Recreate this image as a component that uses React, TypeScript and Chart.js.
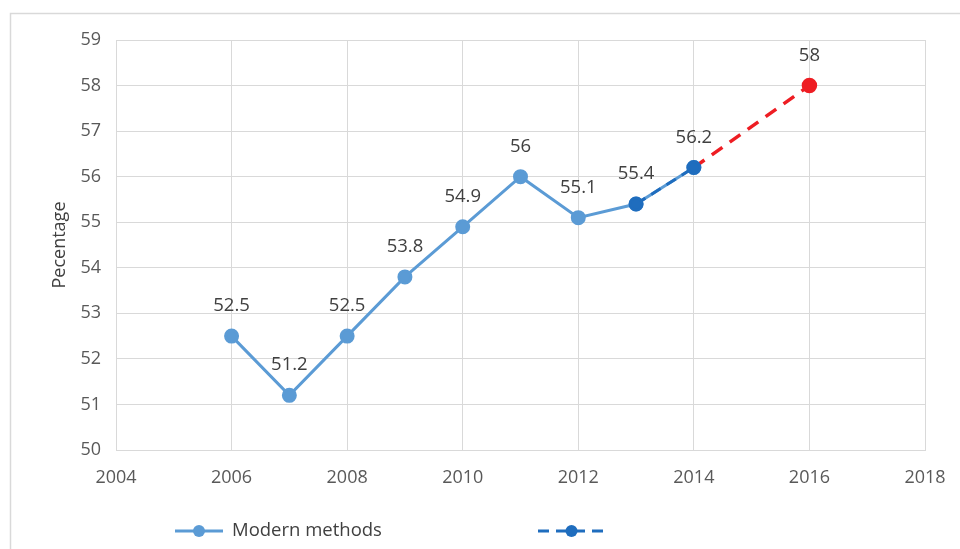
import React, { useEffect, useRef } from "react";
import { Chart, registerables } from "chart.js";
Chart.register(...registerables);

const years = [2006, 2007, 2008, 2009, 2010, 2011, 2012, 2013, 2014];
const modernMethods = [52.5, 51.2, 52.5, 53.8, 54.9, 56, 55.1, 55.4, 56.2];
const recentYears = [2013, 2014];
const recentValues = [55.4, 56.2];
const targetYears = [2014, 2016];
const targetValues = [56.2, 58];
const seriesNames = ["Modern methods", "", "Target"];
const xMin = 2004, xMax = 2018, xStep = 2;
const yMin = 50, yMax = 59, yStep = 1;
const yTitle = "Pecentage";

const FONT = '"Open Sans", "Noto Sans", sans-serif';
const LIGHT = "#5B9BD5";
const DARK = "#1F6DBE";
const RED = "#EE1D23";
const GRID = "#D9D9D9";
const TEXT = "#404040";

const toPts = (xs: number[], ys: number[]) => xs.map((x, i) => ({ x, y: ys[i] }));

const bgPlugin = {
  id: "bgBorder",
  beforeDraw(chart: any) {
    const { ctx } = chart;
    ctx.save();
    ctx.fillStyle = "#fff";
    ctx.fillRect(0, 0, chart.width, chart.height);
    ctx.strokeStyle = GRID;
    ctx.lineWidth = 1.5;
    ctx.strokeRect(10.5, 13.5, chart.width + 20, chart.height + 20);
    ctx.restore();
  },
};

const labelPlugin = {
  id: "pointValueLabels",
  afterDatasetsDraw(chart: any) {
    const { ctx } = chart;
    ctx.save();
    ctx.font = `18.5px ${FONT}`;
    ctx.fillStyle = TEXT;
    ctx.textAlign = "center";
    ctx.textBaseline = "alphabetic";
    chart.data.datasets.forEach((ds: any, i: number) => {
      const flags = ds.labelFlags;
      if (!flags) return;
      const meta = chart.getDatasetMeta(i);
      meta.data.forEach((el: any, j: number) => {
        if (!flags[j]) return;
        ctx.fillText(String(ds.data[j].y), el.x, el.y - 25);
      });
    });
    ctx.restore();
  },
};

const legendPlugin = {
  id: "customLegend",
  afterDraw(chart: any) {
    const { ctx, chartArea } = chart;
    const items = chart.data.datasets.filter((d: any) => d.inLegend);
    const y = chart.height - 18;
    const starts = [chartArea.left + 59, chartArea.left + 422];
    ctx.save();
    items.forEach((ds: any, k: number) => {
      const x0 = starts[k];
      const len = ds.label ? 48 : 67;
      ctx.strokeStyle = ds.borderColor;
      ctx.lineWidth = 3;
      ctx.setLineDash(ds.borderDash || []);
      ctx.beginPath();
      ctx.moveTo(x0, y);
      ctx.lineTo(x0 + len, y);
      ctx.stroke();
      ctx.setLineDash([]);
      ctx.fillStyle = ds.pointBackgroundColor;
      ctx.beginPath();
      ctx.arc(x0 + len / 2, y, 6, 0, Math.PI * 2);
      ctx.fill();
      if (ds.label) {
        ctx.fillStyle = TEXT;
        ctx.font = `18.5px ${FONT}`;
        ctx.textAlign = "left";
        ctx.textBaseline = "middle";
        ctx.fillText(ds.label, x0 + len + 9, y);
      }
    });
    ctx.restore();
  },
};

export default function App() {
  const ref = useRef<HTMLCanvasElement | null>(null);
  useEffect(() => {
    document.body.style.margin = "0";
    if (!ref.current) return;
    const chart = new Chart(ref.current, {
      type: "line",
      data: {
        datasets: [
          {
            label: seriesNames[0],
            data: toPts(years, modernMethods),
            borderColor: LIGHT,
            backgroundColor: LIGHT,
            pointBackgroundColor: LIGHT,
            pointBorderColor: LIGHT,
            borderWidth: 3,
            pointRadius: 6,
            order: 3,
            inLegend: true,
            labelFlags: years.map(() => true),
          } as any,
          {
            label: seriesNames[1],
            data: toPts(recentYears, recentValues),
            borderColor: DARK,
            backgroundColor: DARK,
            pointBackgroundColor: DARK,
            pointBorderColor: DARK,
            borderWidth: 3,
            borderDash: [11, 7],
            pointRadius: 6,
            order: 1,
            inLegend: true,
          } as any,
          {
            label: seriesNames[2],
            data: toPts(targetYears, targetValues),
            borderColor: RED,
            backgroundColor: RED,
            pointBackgroundColor: RED,
            pointBorderColor: RED,
            borderWidth: 3.5,
            borderDash: [13, 9],
            pointRadius: [0, 6],
            order: 2,
            inLegend: false,
            labelFlags: [false, true],
          } as any,
        ],
      },
      options: {
        responsive: false,
        animation: false,
        layout: { padding: { left: 40, right: 35, top: 40, bottom: 59 } },
        plugins: { legend: { display: false }, tooltip: { enabled: false } },
        scales: {
          x: {
            type: "linear",
            min: xMin,
            max: xMax,
            ticks: {
              stepSize: xStep,
              color: "#595959",
              font: { family: FONT, size: 18 },
              padding: 17,
              callback: (v: any) => String(v),
            },
            grid: { color: GRID, lineWidth: 1, drawTicks: false },
            border: { color: GRID, width: 1 },
            afterFit: (s: any) => {
              s.height = 40;
              s.paddingLeft = 0;
              s.paddingRight = 0;
            },
          },
          y: {
            min: yMin,
            max: yMax,
            ticks: { stepSize: yStep, color: "#595959", font: { family: FONT, size: 18 }, padding: 15 },
            grid: { color: GRID, lineWidth: 1, drawTicks: false },
            border: { color: GRID, width: 1 },
            title: { display: true, text: yTitle, color: TEXT, font: { family: FONT, size: 18 }, padding: { top: 9, bottom: 0 } },
            afterFit: (s: any) => {
              s.width = 76;
              s.paddingTop = 0;
              s.paddingBottom = 0;
            },
          },
        },
      } as any,
      plugins: [bgPlugin, labelPlugin, legendPlugin],
    });
    return () => chart.destroy();
  }, []);
  return <canvas ref={ref} width={960} height={549} style={{ display: "block" }} />;
}
